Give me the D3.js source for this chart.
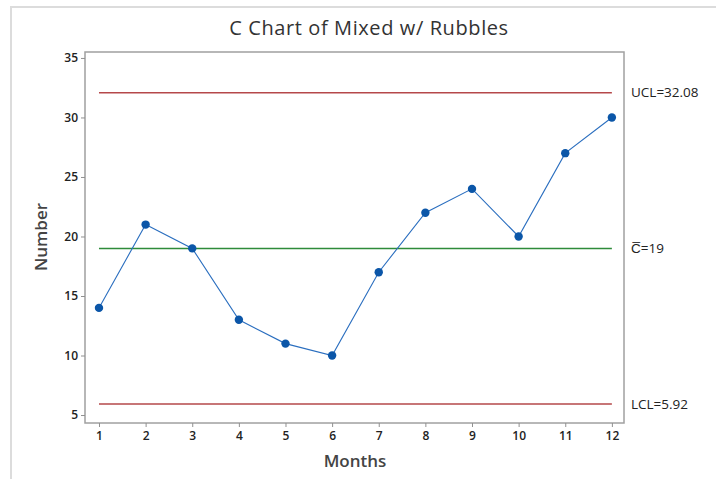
<!DOCTYPE html>
<html><head><meta charset="utf-8">
<script src="https://cdn.jsdelivr.net/npm/d3@7"></script>
<style>body{margin:0;background:#fff;}svg{display:block;font-family:"Open Sans",sans-serif;}</style>
</head><body><svg id="c" width="716" height="479"></svg>
<script>
const months = [1,2,3,4,5,6,7,8,9,10,11,12];
const counts = [14,21,19,13,11,10,17,22,24,20,27,30];
const yTicks = [5,10,15,20,25,30,35];
const UCL = 32.08, CL = 19, LCL = 5.92;
const limitLabels = ["UCL=32.08", "C\u0305=19", "LCL=5.92"];

const svg = d3.select("#c");
const L = 85, R = 624, T = 52, B = 423;
const x = d3.scaleLinear().domain([0.7, 12.26]).range([L, R]);
const y = d3.scaleLinear().domain([4.33, 35.5]).range([B, T]);

// outer frame
svg.append("path").attr("d", "M11,479V7H716").attr("fill","none").attr("stroke","#dcdcdc").attr("stroke-width",2);

// title
svg.append("text").attr("x", 369).attr("y", 35).attr("text-anchor","middle")
  .attr("font-size", 20).attr("letter-spacing", 0.6).attr("fill", "#333").text("C Chart of Mixed w/ Rubbles");

// plot frame
svg.append("rect").attr("x", L).attr("y", T).attr("width", R-L).attr("height", B-T)
  .attr("fill","none").attr("stroke","#a0a0a0").attr("stroke-width",1.5);

// axes
const yAxis = svg.append("g").attr("transform", `translate(${L},0)`)
  .call(d3.axisLeft(y).tickValues(yTicks).tickSize(4).tickPadding(3));
const xAxis = svg.append("g").attr("transform", `translate(0,${B})`)
  .call(d3.axisBottom(x).tickValues(months).tickSize(4).tickPadding(4).tickFormat(d3.format("d")));
[yAxis, xAxis].forEach(g => {
  g.select(".domain").remove();
  g.selectAll("line").attr("stroke","#909090");
  g.selectAll("text").attr("font-size", 12).attr("font-weight", 600).attr("fill","#222")
    .attr("font-family","Open Sans, sans-serif");
});

// axis titles
svg.append("text").attr("transform","translate(47,237) rotate(-90)").attr("text-anchor","middle")
  .attr("font-size",17).attr("font-weight",600).attr("fill","#444").text("Number");
svg.append("text").attr("x", 355).attr("y", 467).attr("text-anchor","middle")
  .attr("font-size",17).attr("font-weight",600).attr("fill","#444").text("Months");

// limit lines
const limits = [
  {v: UCL, c: "#b5484a", label: limitLabels[0]},
  {v: CL,  c: "#2e8b3a", label: limitLabels[1]},
  {v: LCL, c: "#b5484a", label: limitLabels[2]}
];
limits.forEach(d => {
  svg.append("line").attr("x1", x(months[0])).attr("x2", x(months[months.length-1]))
    .attr("y1", y(d.v)).attr("y2", y(d.v)).attr("stroke", d.c).attr("stroke-width", 1.5);
  svg.append("text").attr("x", 631).attr("y", y(d.v)).attr("dy","0.35em")
    .attr("font-size", 13.5).attr("fill","#222").text(d.label);
});

// data line
const pts = months.map((m,i)=>[m, counts[i]]);
svg.append("path").datum(pts)
  .attr("d", d3.line().x(d=>x(d[0])).y(d=>y(d[1])))
  .attr("fill","none").attr("stroke","#2a6ebf").attr("stroke-width",1.1);
svg.selectAll("circle.pt").data(pts).enter().append("circle")
  .attr("cx", d=>x(d[0])).attr("cy", d=>y(d[1])).attr("r", 4.2).attr("fill","#0b56a8");
</script></body></html>
